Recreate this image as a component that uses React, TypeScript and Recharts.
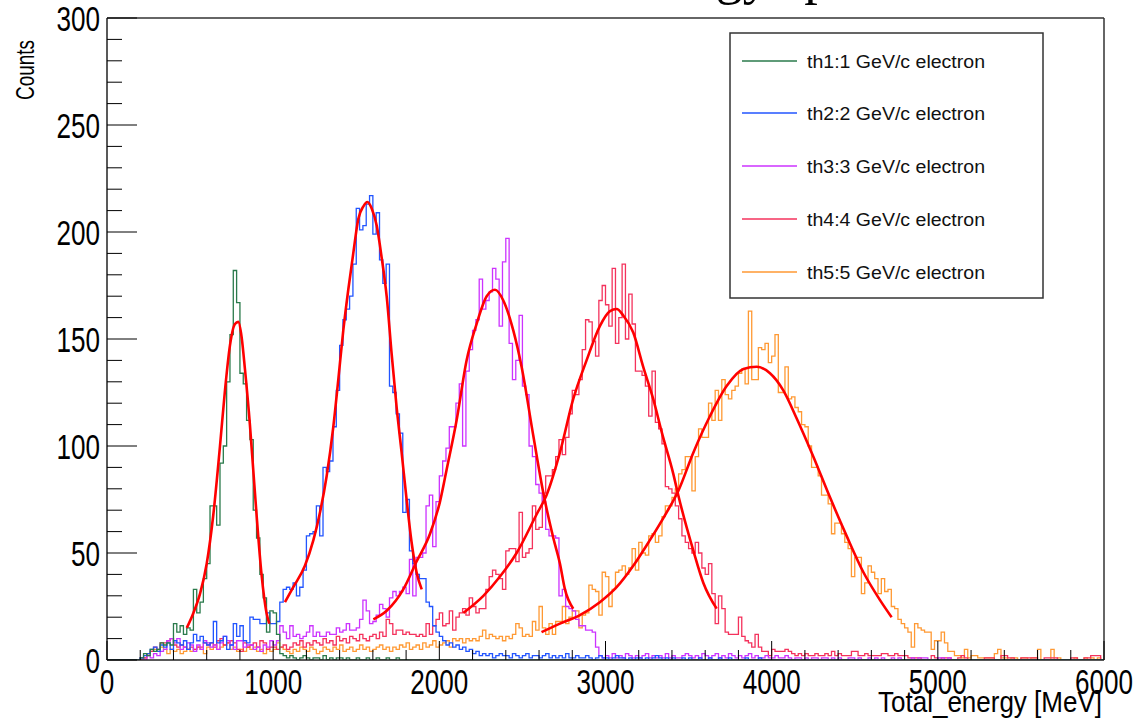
import React from 'react';
import { ComposedChart, Line, XAxis, YAxis, ReferenceLine } from 'recharts';

// histogram binning (MeV)
const BIN_START = 200;
const BIN_WIDTH = 20;
const X_MAX = 6000;

const X_TICKS = [0, 200, 400, 600, 800, 1000, 1200, 1400, 1600, 1800, 2000, 2200, 2400, 2600, 2800, 3000,
  3200, 3400, 3600, 3800, 4000, 4200, 4400, 4600, 4800, 5000, 5200, 5400, 5600, 5800, 6000];
const Y_TICKS = [0, 10, 20, 30, 40, 50, 60, 70, 80, 90, 100, 110, 120, 130, 140, 150, 160, 170, 180, 190, 200,
  210, 220, 230, 240, 250, 260, 270, 280, 290, 300];

const LEGEND_LABELS = [
  'th1:1 GeV/c electron',
  'th2:2 GeV/c electron',
  'th3:3 GeV/c electron',
  'th4:4 GeV/c electron',
  'th5:5 GeV/c electron',
];
const COLORS = ['#2a7a4b', '#2255ff', '#cc33ff', '#f4325c', '#ff9933'];
const FIT_COLOR = '#ff0000';

// counts per 20 MeV bin, first bin starts at 200 MeV (10 bins per row)
const TH1 = [
  1, 3, 2, 5, 4, 5, 8, 7, 8, 7,
  17, 13, 16, 12, 15, 14, 33, 22, 27, 38,
  45, 72, 72, 63, 92, 100, 130, 152, 182, 167,
  134, 129, 112, 103, 70, 57, 40, 29, 13, 23,
  22, 12, 3, 2, 1, 2, 1, 0, 1, 2,
  1, 0, 1, 1, 0, 2, 0, 1, 0, 1,
  1, 0, 1, 0, 0, 1, 0, 0, 1, 0,
  0, 1, 0, 0, 1, 0, 0, 1, 0, 0,
];

const TH2 = [
  1, 2, 3, 5, 6, 4, 7, 6, 8, 5,
  9, 8, 7, 9, 5, 8, 12, 9, 11, 8,
  7, 8, 18, 8, 9, 11, 5, 7, 17, 11,
  16, 9, 8, 20, 19, 19, 17, 17, 22, 17,
  17, 18, 27, 33, 34, 33, 36, 30, 34, 42,
  58, 59, 60, 72, 58, 90, 88, 93, 109, 126,
  147, 159, 164, 170, 185, 211, 201, 203, 213, 217,
  199, 209, 187, 176, 185, 128, 125, 115, 106, 69,
  75, 51, 45, 40, 38, 38, 27, 25, 16, 13,
  11, 9, 7, 8, 6, 7, 5, 6, 4, 5,
  3, 4, 2, 3, 2, 3, 1, 2, 3, 2,
  2, 1, 3, 2, 1, 2, 3, 1, 2, 2,
  1, 2, 3, 1, 2, 1, 2, 1, 3, 1,
  1, 2, 1, 1, 2, 1, 0, 1, 2, 1,
  1, 0, 1, 2, 1, 1, 0, 1, 0, 1,
  1, 0, 1, 0, 1, 2, 1, 0, 1, 0,
  1, 0, 0, 1, 0, 1, 0, 0, 1, 0,
  0, 1, 0, 0, 1, 0, 0, 1, 0, 0,
  0, 0, 1, 0, 0, 0, 1, 0, 0, 0,
];

const TH3 = [
  1, 0, 2, 1, 3, 2, 4, 5, 9, 10,
  8, 10, 5, 6, 8, 7, 4, 7, 5, 9,
  8, 6, 7, 5, 8, 11, 9, 7, 5, 9,
  9, 6, 7, 7, 5, 6, 4, 7, 6, 9,
  7, 9, 16, 13, 10, 16, 11, 12, 10, 11,
  13, 16, 11, 13, 11, 11, 13, 12, 12, 15,
  13, 14, 17, 14, 14, 15, 19, 28, 23, 17,
  18, 21, 26, 24, 20, 29, 32, 30, 32, 34,
  31, 47, 30, 48, 48, 50, 72, 77, 53, 74,
  86, 93, 99, 109, 109, 120, 129, 100, 135, 145,
  154, 159, 178, 164, 168, 172, 183, 178, 156, 186,
  197, 148, 131, 140, 161, 128, 124, 100, 95, 82,
  78, 74, 61, 58, 58, 57, 30, 33, 25, 24,
  23, 19, 16, 16, 14, 14, 13, 6, 2, 1,
  2, 1, 3, 1, 2, 1, 3, 2, 1, 2,
  1, 2, 3, 1, 2, 1, 2, 1, 3, 1,
  2, 1, 1, 2, 3, 2, 1, 2, 1, 3,
  2, 1, 2, 3, 1, 2, 1, 3, 2, 1,
  2, 1, 2, 3, 1, 2, 1, 1, 2, 1,
  1, 2, 1, 1, 2, 1, 0, 1, 1, 0,
  1, 0, 1, 1, 0, 1, 1, 0, 1, 0,
  1, 0, 0, 1, 1, 0, 1, 0, 0, 1,
  0, 1, 0, 1, 0, 0, 1, 0, 1, 0,
  0, 0, 1, 0, 1, 1, 1, 0, 0, 0,
  1, 1, 0, 1, 0, 0, 0, 0, 0, 0,
];

const TH4 = [
  0, 1, 3, 4, 6, 5, 8, 8, 9, 10,
  7, 6, 7, 6, 5, 6, 5, 6, 6, 8,
  7, 8, 6, 9, 10, 7, 8, 9, 8, 5,
  4, 8, 6, 7, 8, 6, 9, 8, 5, 6,
  6, 5, 6, 7, 5, 6, 8, 7, 9, 6,
  8, 7, 9, 8, 7, 10, 8, 9, 7, 11,
  9, 10, 8, 11, 10, 9, 12, 10, 9, 11,
  12, 10, 13, 11, 19, 17, 12, 14, 14, 12,
  13, 12, 12, 11, 12, 11, 17, 12, 16, 19,
  22, 16, 17, 23, 14, 20, 22, 24, 21, 29,
  25, 22, 24, 24, 33, 39, 42, 40, 38, 33,
  51, 52, 52, 46, 69, 48, 50, 52, 72, 61,
  62, 78, 86, 86, 89, 95, 103, 96, 104, 115,
  126, 124, 131, 145, 159, 158, 149, 142, 168, 175,
  166, 156, 183, 148, 160, 185, 150, 171, 157, 135,
  135, 133, 128, 114, 135, 111, 108, 101, 81, 80,
  78, 72, 66, 58, 55, 52, 50, 55, 50, 43,
  40, 45, 31, 17, 30, 24, 13, 12, 12, 12,
  20, 11, 9, 8, 6, 12, 6, 4, 4, 2,
  5, 4, 4, 4, 5, 4, 3, 2, 3, 2,
  3, 2, 2, 3, 2, 2, 3, 2, 4, 2,
  3, 2, 2, 2, 4, 4, 2, 2, 3, 2,
  2, 2, 2, 3, 3, 2, 2, 3, 2, 2,
  2, 1, 1, 1, 1, 0, 0, 0, 2, 1,
  0, 1, 1, 1, 0, 0, 1, 2, 1, 0,
  0, 0, 0, 0, 1, 1, 1, 0, 0, 2,
  2, 1, 1, 0, 0, 1, 1, 1, 1, 1,
  0, 0, 1, 1, 1, 1, 0, 0, 0, 0,
  1, 1, 0, 0, 1, 1, 2, 2, 2, 0,
];

const TH5 = [
  0, 1, 3, 4, 5, 4, 6, 5, 3, 5,
  4, 5, 3, 4, 5, 4, 5, 6, 5, 3,
  6, 5, 7, 5, 6, 7, 8, 5, 6, 4,
  5, 4, 6, 5, 6, 4, 5, 3, 5, 4,
  5, 8, 6, 5, 4, 3, 5, 4, 6, 5,
  4, 6, 5, 3, 4, 6, 5, 4, 6, 5,
  7, 4, 5, 6, 4, 5, 7, 5, 6, 4,
  5, 6, 7, 5, 6, 4, 6, 5, 7, 6,
  8, 5, 6, 7, 5, 8, 6, 7, 9, 6,
  7, 8, 9, 6, 10, 9, 10, 8, 10, 9,
  10, 9, 11, 14, 10, 12, 11, 10, 11, 9,
  11, 10, 12, 17, 15, 11, 12, 11, 18, 14,
  25, 15, 12, 17, 12, 18, 18, 25, 17, 20,
  23, 23, 15, 21, 22, 35, 33, 32, 21, 41,
  39, 25, 33, 41, 42, 44, 40, 43, 52, 42,
  55, 50, 49, 58, 59, 55, 58, 67, 72, 72,
  76, 80, 87, 89, 95, 95, 79, 95, 108, 104,
  104, 120, 112, 126, 112, 131, 124, 122, 126, 128,
  134, 136, 129, 163, 131, 131, 146, 145, 148, 139,
  142, 152, 125, 125, 137, 122, 123, 118, 116, 110,
  109, 100, 90, 90, 86, 77, 77, 73, 59, 64,
  64, 59, 55, 52, 39, 48, 48, 31, 36, 44,
  41, 38, 31, 38, 32, 33, 25, 24, 19, 17,
  15, 13, 6, 17, 15, 14, 13, 13, 5, 9,
  9, 13, 8, 4, 4, 2, 2, 1, 5, 1,
  2, 2, 1, 1, 1, 1, 1, 3, 5, 1,
  1, 0, 1, 1, 0, 1, 1, 0, 1, 1,
  5, 0, 0, 0, 5, 0, 1, 0, 0, 0,
  0, 1, 0, 0, 1, 0, 1, 0, 1, 0,
];

// fitted curves, [MeV, counts]
const FIT1 = [[480, 15], [520, 22], [560, 31], [600, 45], [640, 68], [680, 100], [710, 126], [740, 147],
  [770, 157], [790, 158], [810, 151], [830, 136], [860, 110], [880, 89], [900, 68], [930, 40], [960, 22], [977, 17]];
const FIT2 = [[1071, 27], [1121, 34], [1191, 44], [1242, 56], [1282, 69], [1322, 86], [1362, 109], [1392, 131],
  [1422, 154], [1452, 173], [1482, 190], [1512, 206], [1543, 212], [1567, 214], [1593, 211], [1623, 203],
  [1653, 188], [1683, 170], [1713, 143], [1743, 118], [1773, 97], [1803, 75], [1833, 55], [1863, 41], [1894, 33]];
const FIT3 = [[1603, 19], [1683, 23], [1783, 33], [1863, 46], [1944, 59], [2004, 74], [2044, 89], [2104, 112],
  [2164, 140], [2224, 157], [2285, 170], [2335, 173], [2385, 168], [2445, 154], [2495, 137], [2565, 105],
  [2626, 78], [2686, 57], [2726, 45], [2756, 33], [2806, 24]];
const FIT4 = [[2144, 22], [2265, 30], [2365, 39], [2465, 50], [2585, 68], [2645, 77], [2726, 97], [2806, 122],
  [2886, 140], [2966, 156], [3027, 163], [3067, 164], [3107, 161], [3167, 153], [3227, 137], [3287, 122],
  [3340, 106], [3408, 87], [3438, 77], [3529, 51], [3589, 36], [3669, 24]];
const FIT5 = [[2615, 13], [2726, 17], [2846, 21], [2966, 27], [3067, 34], [3167, 44], [3267, 56], [3368, 69],
  [3438, 79], [3529, 97], [3629, 114], [3729, 128], [3830, 136], [3910, 137], [3990, 134], [4070, 126],
  [4150, 113], [4251, 95], [4351, 76], [4451, 58], [4552, 41], [4652, 28], [4722, 20]];

const HISTS = [TH1, TH2, TH3, TH4, TH5];
const FITS = [FIT1, FIT2, FIT3, FIT4, FIT5];

const binValue = (arr: number[], x: number) => {
  if (x < BIN_START) return 0;
  let idx = Math.floor((x - BIN_START) / BIN_WIDTH);
  if (x >= X_MAX) idx = Math.floor((X_MAX - BIN_START) / BIN_WIDTH) - 1;
  return idx < arr.length ? arr[idx] : 0;
};

// one row per bin edge, stepAfter draws each bin as a flat segment
const histRows = Array.from({ length: X_MAX / BIN_WIDTH + 1 }, (_, i) => {
  const x = i * BIN_WIDTH;
  const row: Record<string, number> = { x };
  HISTS.forEach((h, k) => { row[`h${k + 1}`] = binValue(h, x); });
  return row;
});

const fitRows = FITS.map((f) => f.map(([x, y]) => ({ x, fit: y })));

const PLOT_LEFT = 107;
const PLOT_BOTTOM = 660;
const AXIS_FONT = 'Liberation Sans, Arial, sans-serif';
const digitWidth = (s: string) => s.length * 14.5;

const XTick = (props: any) => {
  const { x, payload } = props;
  const v = payload.value;
  const major = v % 1000 === 0;
  return (
    <g>
      <line x1={x} x2={x} y1={PLOT_BOTTOM} y2={PLOT_BOTTOM - (major ? 19 : 10)} stroke="#000" strokeWidth={1} />
      {major && (
        <text x={x} y={694} textAnchor="middle" fontSize={35} fontFamily={AXIS_FONT} fill="#000"
          textLength={digitWidth(String(v))} lengthAdjust="spacingAndGlyphs">{v}</text>
      )}
    </g>
  );
};

const YTick = (props: any) => {
  const { y, payload } = props;
  const v = payload.value;
  const major = v % 50 === 0;
  return (
    <g>
      <line x1={PLOT_LEFT} x2={PLOT_LEFT + (major ? 30 : 15)} y1={y} y2={y} stroke="#000" strokeWidth={1} />
      {major && (
        <text x={100} y={y + 12.5} textAnchor="end" fontSize={35} fontFamily={AXIS_FONT} fill="#000"
          textLength={digitWidth(String(v))} lengthAdjust="spacingAndGlyphs">{v}</text>
      )}
    </g>
  );
};

const LEGEND_ROWS_Y = [61, 113, 166, 219, 272];

export default function App() {
  return (
    <div style={{ position: 'absolute', left: 0, top: 0, width: 1137, height: 718, background: '#fff' }}>
      <ComposedChart width={1137} height={718} data={histRows} margin={{ top: 18, right: 33, left: 0, bottom: 0 }}>
        <XAxis dataKey="x" type="number" domain={[0, X_MAX]} ticks={X_TICKS} interval={0} allowDataOverflow
          height={58} tickLine={false} axisLine={{ stroke: '#222', strokeWidth: 1.5 }} tick={<XTick />} />
        <YAxis type="number" domain={[0, 300]} ticks={Y_TICKS} interval={0} allowDataOverflow
          width={107} tickLine={false} axisLine={{ stroke: '#222', strokeWidth: 1.5 }} tick={<YTick />} />
        <ReferenceLine y={300} stroke="#333" strokeWidth={1.5} />
        <ReferenceLine x={X_MAX} stroke="#333" strokeWidth={1.5} />
        {[4, 3, 2, 1, 0].map((k) => (
          <Line key={`h${k}`} dataKey={`h${k + 1}`} type="stepAfter" stroke={COLORS[k]} strokeWidth={1.3}
            dot={false} activeDot={false} isAnimationActive={false} />
        ))}
        {fitRows.map((rows, k) => (
          <Line key={`fit${k}`} data={rows} dataKey="fit" type="monotone" stroke={FIT_COLOR} strokeWidth={2.6}
            dot={false} activeDot={false} isAnimationActive={false} />
        ))}
      </ComposedChart>
      <svg width={1137} height={718} style={{ position: 'absolute', left: 0, top: 0, pointerEvents: 'none' }}>
        <text x={500} y={-7} fontFamily="Liberation Serif, Times New Roman, serif" fontSize={54} fill="#000">
          Total energy spectrum
        </text>
        <text x={34} y={40} transform="rotate(-90 34 40)" textAnchor="end" fontSize={25} fontFamily={AXIS_FONT}
          fill="#000" textLength={60} lengthAdjust="spacingAndGlyphs">Counts</text>
        <text x={1102} y={712} textAnchor="end" fontSize={29} fontFamily={AXIS_FONT} fill="#000"
          textLength={224} lengthAdjust="spacingAndGlyphs">Total_energy [MeV]</text>
        <rect x={730} y={33} width={313} height={265} fill="#fff" stroke="#333" strokeWidth={1.5} />
        {LEGEND_LABELS.map((label, k) => (
          <g key={label}>
            <line x1={742} x2={797} y1={LEGEND_ROWS_Y[k]} y2={LEGEND_ROWS_Y[k]} stroke={COLORS[k]} strokeWidth={1.5} />
            <text x={807} y={LEGEND_ROWS_Y[k] + 6.5} fontSize={18} fontFamily={AXIS_FONT} fill="#111"
              textLength={178} lengthAdjust="spacingAndGlyphs">{label}</text>
          </g>
        ))}
      </svg>
    </div>
  );
}
